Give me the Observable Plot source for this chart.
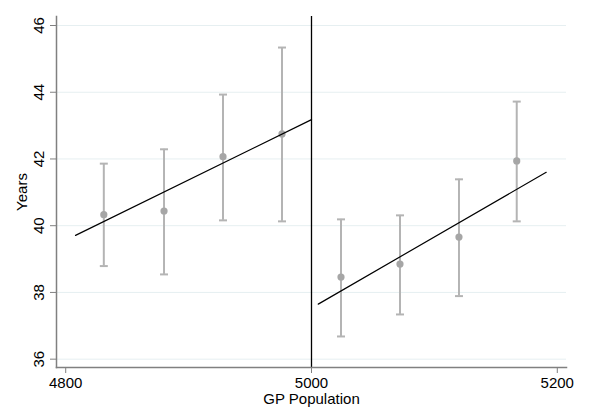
<!DOCTYPE html>
<html>
<head>
<meta charset="utf-8">
<script src="https://cdn.jsdelivr.net/npm/d3@7"></script>
<script src="https://cdn.jsdelivr.net/npm/@observablehq/plot@0.6"></script>
<style>
  html, body { margin: 0; padding: 0; background: #fff; }
</style>
</head>
<body>
<div id="chart"></div>
<script>
// Bin centers (GP population) and mean years with confidence bounds
const binX   = [4831, 4880, 4928, 4976, 5024, 5072, 5120, 5167];
const meanY  = [40.33, 40.44, 42.07, 42.75, 38.46, 38.85, 39.66, 41.94];
const upperY = [41.86, 42.29, 43.93, 45.34, 40.19, 40.31, 41.39, 43.72];
const lowerY = [38.79, 38.54, 40.16, 40.13, 36.68, 37.34, 37.89, 40.13];

// Fitted lines (endpoints)
const fitLeftX  = [4808, 5000];
const fitLeftY  = [39.71, 43.18];
const fitRightX = [5005.5, 5191];
const fitRightY = [37.65, 41.6];

const cutoff = [5000];
const xTicks = [4800, 5000, 5200];
const yTicks = [36, 38, 40, 42, 44, 46];

const bins = binX.map((x, i) => ({x, y: meanY[i], hi: upperY[i], lo: lowerY[i]}));
const fitLeft = fitLeftX.map((x, i) => ({x, y: fitLeftY[i]}));
const fitRight = fitRightX.map((x, i) => ({x, y: fitRightY[i]}));

const capSymbol = {
  draw(ctx, size) {
    const w = 4;
    ctx.moveTo(-w, 0);
    ctx.lineTo(w, 0);
  }
};

const axisColor = "#808080";
const ciColor = "#b4b4b4";
const dotColor = "#a6a6a6";
const fs = 15;

const chart = Plot.plot({
  width: 590,
  height: 412,
  marginLeft: 56,
  marginTop: 16,
  marginBottom: 45,
  marginRight: 24,
  style: {fontFamily: "'Liberation Sans', Arial, Helvetica, sans-serif", fontSize: fs + "px", color: "#000", background: "#fff"},
  x: {domain: [4792.5, 5207.5], ticks: xTicks, label: null},
  y: {domain: [35.75, 46.27], ticks: yTicks, label: null},
  marks: [
    Plot.gridY(yTicks, {stroke: "#e6eff1", strokeOpacity: 1, strokeWidth: 1}),
    Plot.ruleX(bins, {x: "x", y1: "lo", y2: "hi", stroke: ciColor, strokeWidth: 2}),
    Plot.dot(bins, {x: "x", y: "hi", symbol: capSymbol, stroke: ciColor, strokeWidth: 2, r: 4}),
    Plot.dot(bins, {x: "x", y: "lo", symbol: capSymbol, stroke: ciColor, strokeWidth: 2, r: 4}),
    Plot.dot(bins, {x: "x", y: "y", r: 3.6, fill: dotColor, stroke: "none"}),
    Plot.line(fitLeft, {x: "x", y: "y", stroke: "#000", strokeWidth: 1.2}),
    Plot.line(fitRight, {x: "x", y: "y", stroke: "#000", strokeWidth: 1.2}),
    Plot.ruleX(cutoff, {stroke: "#000", strokeWidth: 1.3}),
    Plot.frame({anchor: "left", stroke: axisColor, strokeWidth: 1.5}),
    Plot.frame({anchor: "bottom", stroke: axisColor, strokeWidth: 1.5}),
    Plot.axisY(yTicks, {tickSize: 6, tickPadding: 7, tickRotate: -90, tickFormat: d3.format("d"), stroke: axisColor, fill: "#000", fontSize: fs, label: null}),
    Plot.axisX(xTicks, {tickSize: 6, tickPadding: 4, tickFormat: d3.format("d"), stroke: axisColor, fill: "#000", fontSize: fs, label: null}),
    Plot.text(["Years"], {frameAnchor: "left", dx: -34, rotate: -90, lineAnchor: "middle", textAnchor: "middle", fontSize: fs, fill: "#000"}),
    Plot.text(["GP Population"], {frameAnchor: "bottom", dy: 32, lineAnchor: "middle", textAnchor: "middle", fontSize: fs, fill: "#000"})
  ]
});
document.getElementById("chart").appendChild(chart);
</script>
</body>
</html>
